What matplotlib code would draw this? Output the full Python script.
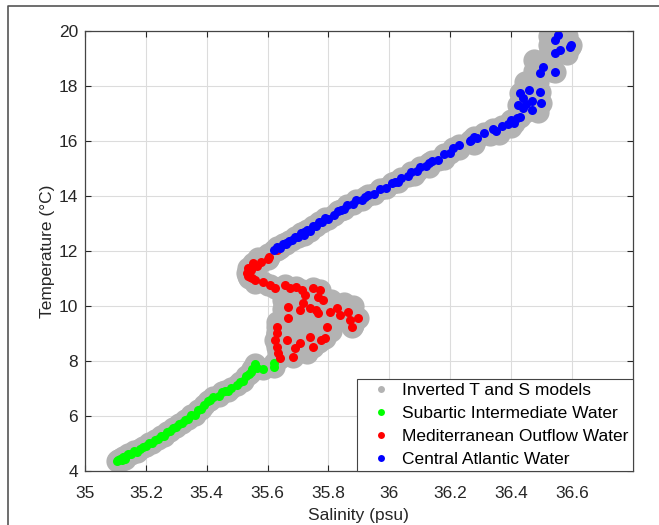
import numpy as np
import matplotlib
matplotlib.use("Agg")
from matplotlib import pyplot as plt
from matplotlib.lines import Line2D

plt.rcParams['font.family'] = ['Liberation Sans', 'DejaVu Sans']

# Subarctic Intermediate Water (salinity psu, temperature C)
saiw_s = [35.105, 35.11, 35.115, 35.12, 35.125, 35.13, 35.135, 35.14, 35.15, 35.16,
          35.17, 35.18, 35.19, 35.20, 35.21, 35.22, 35.23, 35.24, 35.25, 35.26,
          35.27, 35.28, 35.29, 35.30, 35.31, 35.32, 35.33, 35.34, 35.35, 35.36,
          35.37, 35.38, 35.39, 35.41, 35.42, 35.44, 35.45, 35.47, 35.48, 35.50,
          35.51, 35.52, 35.53, 35.54, 35.55, 35.56, 35.565, 35.585, 35.62, 35.62,
          35.405, 35.46, 35.545]
saiw_t = [4.35, 4.40, 4.45, 4.38, 4.50, 4.44, 4.55, 4.60, 4.62, 4.72,
          4.70, 4.80, 4.88, 4.90, 5.00, 5.03, 5.12, 5.16, 5.27, 5.28,
          5.42, 5.45, 5.55, 5.58, 5.70, 5.73, 5.87, 5.88, 6.02, 6.05,
          6.22, 6.25, 6.38, 6.58, 6.68, 6.72, 6.88, 6.92, 7.03, 7.12,
          7.24, 7.28, 7.45, 7.52, 7.72, 7.90, 7.75, 7.70, 7.78, 7.92,
          6.55, 6.90, 7.60]

# Mediterranean Outflow Water
mow_s = [35.63, 35.605, 35.58, 35.553, 35.537, 35.531, 35.542, 35.558, 35.586, 35.608,
         35.624, 35.657, 35.673, 35.695, 35.712, 35.723, 35.75, 35.772, 35.766, 35.783,
         35.668, 35.668, 35.706, 35.717, 35.74, 35.76, 35.766, 35.805, 35.827, 35.838,
         35.865, 35.871, 35.898, 35.876, 35.794, 35.63, 35.63, 35.624, 35.63, 35.635,
         35.641, 35.663, 35.69, 35.684, 35.706, 35.739, 35.75, 35.788, 35.777, 35.545,
         35.565, 35.60, 35.535, 35.55]
mow_t = [12.04, 11.77, 11.61, 11.55, 11.37, 11.19, 11.07, 10.95, 10.88, 10.76,
         10.64, 10.76, 10.64, 10.70, 10.58, 10.40, 10.64, 10.58, 10.34, 10.22,
         9.97, 9.55, 9.85, 10.10, 9.91, 9.85, 9.73, 9.79, 9.91, 9.67,
         9.79, 9.49, 9.55, 9.25, 9.25, 9.25, 9.01, 8.76, 8.52, 8.28,
         8.10, 8.76, 8.46, 8.16, 8.64, 8.88, 8.52, 8.82, 8.76, 11.30,
         11.45, 11.70, 11.10, 11.00]

# Central Atlantic Water
caw_s = [35.62, 35.63, 35.64, 35.65, 35.66, 35.67, 35.68, 35.69, 35.70, 35.71,
         35.72, 35.73, 35.74, 35.75, 35.76, 35.77, 35.78, 35.79, 35.80, 35.82,
         35.83, 35.85, 35.86, 35.88, 35.89, 35.91, 35.93, 35.95, 35.97, 35.99,
         36.01, 36.02, 36.04, 36.06, 36.07, 36.09, 36.10, 36.12, 36.14, 36.16,
         36.18, 36.20, 36.21, 36.23, 36.265, 36.28, 36.29, 36.31, 36.34, 36.35,
         36.37, 36.39, 36.40, 36.42, 36.43, 36.422, 36.44, 36.45, 36.47, 36.43,
         36.46, 36.47, 36.50, 36.495, 36.44, 36.506, 36.495, 36.544, 36.544, 36.561,
         36.544, 36.555, 36.593, 36.598, 35.66, 35.72, 35.84, 35.92, 36.03, 36.13,
         36.27, 36.41]
caw_t = [12.04, 12.14, 12.12, 12.26, 12.24, 12.38, 12.40, 12.52, 12.50, 12.64,
         12.58, 12.75, 12.74, 12.90, 12.92, 13.05, 13.06, 13.20, 13.18, 13.30,
         13.45, 13.52, 13.66, 13.72, 13.86, 13.86, 14.04, 14.08, 14.24, 14.30,
         14.48, 14.52, 14.66, 14.72, 14.86, 14.92, 15.04, 15.10, 15.28, 15.30,
         15.54, 15.58, 15.75, 15.85, 16.00, 16.15, 16.10, 16.30, 16.45, 16.38,
         16.55, 16.60, 16.75, 16.85, 16.88, 17.30, 17.20, 17.35, 17.13, 17.75,
         17.85, 17.45, 17.37, 17.79, 17.55, 18.70, 18.46, 18.52, 19.19, 19.31,
         19.67, 19.85, 19.43, 19.50, 12.30, 12.70, 13.50, 13.95, 14.50, 15.20,
         16.05, 16.65]

# extra inverted-model solutions that have no water mass assigned
inv_s_extra = [36.525, 36.585, 36.525, 36.585, 36.525, 36.585,
               36.475, 36.535, 36.475, 36.535,
               36.445, 36.49, 36.445, 36.49, 36.445, 36.49, 36.445, 36.49,
               36.40, 36.36, 36.33, 36.28, 36.23, 36.18, 36.13, 36.08,
               35.60, 35.57, 35.55, 35.535, 35.54, 35.56, 35.60, 35.64, 35.68, 35.72, 35.76,
               35.65, 35.69, 35.73, 35.77, 35.81, 35.85,
               35.65, 35.69, 35.73, 35.77, 35.81, 35.85,
               35.65, 35.69, 35.73, 35.77, 35.81, 35.85,
               35.65, 35.69, 35.73, 35.77, 35.81,
               35.65, 35.69, 35.73, 35.77,
               35.65, 35.69, 35.73,
               35.88, 35.88, 35.88, 35.63, 35.63, 35.63]
inv_t_extra = [19.15, 19.15, 19.50, 19.50, 19.80, 19.80,
               18.55, 18.55, 18.95, 18.95,
               17.05, 17.05, 17.45, 17.45, 17.85, 17.85, 18.15, 18.15,
               16.50, 16.25, 16.20, 15.90, 15.70, 15.35, 15.05, 14.75,
               11.90, 11.75, 11.50, 11.25, 11.00, 10.85, 10.75, 10.65, 10.60, 10.55, 10.55,
               10.20, 10.20, 10.20, 10.20, 10.20, 10.10,
               9.90, 9.90, 9.90, 9.90, 9.90, 9.90,
               9.50, 9.50, 9.50, 9.50, 9.50, 9.50,
               9.10, 9.10, 9.10, 9.10, 9.10,
               8.70, 8.70, 8.70, 8.70,
               8.30, 8.30, 8.30,
               9.30, 9.70, 10.00, 8.60, 9.00, 9.40]

inv_s = saiw_s + mow_s + caw_s + inv_s_extra
inv_t = saiw_t + mow_t + caw_t + inv_t_extra

fig = plt.figure(figsize=(6.59, 5.25), dpi=100)
ax = fig.add_axes([0.129, 0.103, 0.831, 0.838])

ax.plot(inv_s, inv_t, 'o', color='#b3b3b3', markersize=16, markeredgewidth=0)
ax.plot(saiw_s, saiw_t, 'o', color='#00ff00', markersize=6.5, markeredgewidth=0)
ax.plot(mow_s, mow_t, 'o', color='#ff0000', markersize=6.5, markeredgewidth=0)
ax.plot(caw_s, caw_t, 'o', color='#0000ff', markersize=6.5, markeredgewidth=0)

ax.set_xlim(35, 36.8)
ax.set_ylim(4, 20)
ax.set_xticks([35, 35.2, 35.4, 35.6, 35.8, 36, 36.2, 36.4, 36.6])
ax.set_xticklabels(['35', '35.2', '35.4', '35.6', '35.8', '36', '36.2', '36.4', '36.6'])
ax.set_yticks(range(4, 21, 2))
ax.grid(True, color='#dcdcdc', linewidth=0.8)
ax.set_axisbelow(True)
ax.tick_params(direction='in', length=4, width=0.8, top=True, right=True,
               labelsize=12.5, colors='#262626', pad=5)
ax.tick_params(axis='x', pad=11)
for sp in ax.spines.values():
    sp.set_color('#444444')
    sp.set_linewidth(0.9)

ax.set_xlabel('Salinity (psu)', fontsize=12.5, color='#262626', labelpad=5)
ax.set_ylabel('Temperature (°C)', fontsize=12.5, color='#262626', labelpad=3)

handles = [Line2D([], [], ls='', marker='o', color=c, markersize=5, markeredgewidth=0)
           for c in ['#b3b3b3', '#00ff00', '#ff0000', '#0000ff']]
labels = ['Inverted T and S models', 'Subartic Intermediate Water',
          'Mediterranean Outflow Water', 'Central Atlantic Water']
leg = ax.legend(handles, labels, loc='lower right', fontsize=12.5, fancybox=False,
                borderaxespad=0, handletextpad=0.1, handlelength=2.25,
                labelspacing=0.44, borderpad=0.25, framealpha=1)
leg.get_frame().set_edgecolor('#444444')
leg.get_frame().set_linewidth(0.8)

# outer frame of the panel
fig.add_artist(Line2D([8 / 659, 8 / 659, 1], [0, 1 - 6 / 525, 1 - 6 / 525],
                      color='#555555', linewidth=1.2))

fig.savefig('out.png', dpi=100)
